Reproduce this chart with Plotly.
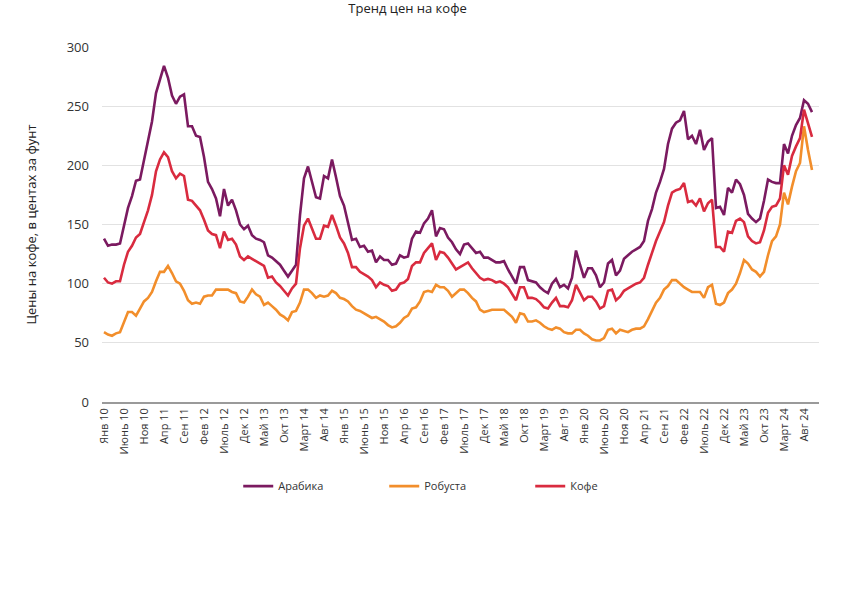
import plotly.graph_objects as go

month_abbr = ["Янв", "Фев", "Март", "Апр", "Май", "Июнь", "Июль", "Авг", "Сен", "Окт", "Ноя", "Дек"]
start_year = 10
n_months = 178  # Jan 2010 .. Oct 2024
months = [f"{month_abbr[i % 12]} {start_year + i // 12}" for i in range(n_months)]
tick_labels = months[::5]

arabica = [
    138, 132, 133, 133, 134, 150, 164, 174, 187, 188,
    205, 221, 237, 261, 272, 284, 274, 259, 252, 258,
    260, 233, 233, 225, 224, 207, 186, 180, 172, 157,
    180, 166, 171, 162, 150, 146, 149, 141, 138, 137,
    135, 124, 122, 119, 116, 111, 106, 111, 116, 158,
    189, 199, 187, 173, 172, 191, 189, 205, 190, 174,
    166, 152, 137, 138, 131, 132, 127, 128, 118, 123,
    120, 120, 116, 117, 124, 122, 123, 138, 144, 143,
    151, 155, 162, 140, 147, 146, 139, 135, 129, 125,
    133, 134, 130, 126, 127, 122, 122, 120, 118, 118,
    119, 112, 106, 100, 114, 114, 103, 102, 101, 97,
    94, 92, 100, 104, 97, 99, 96, 105, 128, 116,
    105, 113, 113, 107, 97, 101, 117, 120, 107, 111,
    121, 124, 127, 129, 131, 136, 153, 163, 177, 186,
    197, 218, 231, 236, 238, 246, 222, 225, 218, 230,
    213, 220, 223, 164, 165, 158, 181, 177, 188, 184,
    175, 159, 155, 152, 155, 170, 188, 186, 185, 185,
    218, 210, 225, 234, 240, 255, 252, 245,
]

robusta = [
    59, 57, 56, 58, 59, 67, 76, 76, 73, 79,
    85, 88, 93, 102, 110, 110, 115, 109, 102, 100,
    94, 86, 83, 84, 83, 89, 90, 90, 95, 95,
    95, 95, 93, 92, 85, 84, 89, 95, 91, 89,
    82, 84, 81, 78, 74, 72, 69, 76, 77, 84,
    95, 95, 92, 88, 90, 89, 90, 94, 92, 88,
    87, 85, 81, 78, 77, 75, 73, 71, 72, 70,
    68, 65, 63, 64, 67, 71, 73, 79, 80, 85,
    93, 94, 93, 99, 97, 97, 94, 89, 92, 95,
    95, 92, 88, 85, 78, 76, 77, 78, 78, 78,
    78, 75, 72, 67, 75, 74, 68, 68, 69, 67,
    64, 62, 61, 63, 62, 59, 58, 58, 61, 61,
    58, 56, 53, 52, 52, 54, 61, 62, 58, 61,
    60, 59, 61, 62, 62, 64, 70, 77, 84, 88,
    95, 98, 103, 103, 100, 97, 95, 93, 93, 93,
    88, 97, 99, 83, 82, 84, 92, 95, 100, 109,
    120, 117, 112, 110, 106, 110, 124, 136, 140, 150,
    177, 167, 182, 195, 202, 233, 213, 196,
]

coffee = [
    105, 101, 100, 102, 102, 116, 127, 132, 139, 142,
    152, 162, 175, 195, 205, 211, 207, 195, 189, 193,
    191, 171, 170, 166, 162, 154, 145, 142, 141, 130,
    144, 137, 138, 133, 123, 120, 123, 121, 119, 117,
    115, 105, 106, 101, 98, 94, 90, 96, 100, 130,
    149, 155, 146, 138, 138, 149, 148, 158, 149, 139,
    134, 126, 114, 114, 110, 108, 106, 103, 97, 101,
    99, 98, 94, 95, 100, 101, 104, 115, 118, 118,
    126, 130, 134, 120, 127, 126, 122, 117, 112, 114,
    116, 118, 113, 109, 105, 103, 104, 103, 101, 102,
    100, 97, 92, 86, 97, 97, 88, 88, 87, 84,
    80, 79, 84, 88, 81, 81, 80, 86, 99, 93,
    86, 89, 89, 85, 79, 81, 94, 95, 86, 89,
    94, 96, 98, 100, 101, 105, 116, 126, 136, 144,
    152, 166, 177, 179, 180, 185, 169, 170, 166, 172,
    161, 168, 171, 131, 131, 127, 144, 143, 153, 155,
    152, 140, 136, 134, 135, 145, 160, 165, 166, 172,
    200, 192, 208, 216, 223, 247, 236, 224,
]

series = [
    ("Арабика", arabica, "#7b1a60"),
    ("Робуста", robusta, "#f28e2b"),
    ("Кофе", coffee, "#d92b3f"),
]

font_family = "Open Sans, Noto Sans, sans-serif"

fig = go.Figure()
for name, values, color in series:
    fig.add_trace(go.Scatter(
        x=months, y=values, name=name, mode="lines",
        line=dict(color=color, width=2.6),
    ))

fig.update_layout(
    width=842, height=595,
    margin=dict(l=102, r=23, t=47, b=193),
    paper_bgcolor="white", plot_bgcolor="white",
    font=dict(family=font_family, size=11, color="#333333"),
    title=dict(
        text="Тренд цен на кофе", x=0.484, xref="container", xanchor="center",
        y=0.986, yref="container", yanchor="middle",
        font=dict(size=13, color="#222222"),
    ),
    showlegend=True,
    legend=dict(
        orientation="h", x=0.19, xanchor="left", y=-0.237, yanchor="middle",
        font=dict(size=11, color="#333333"),
        entrywidth=101, entrywidthmode="pixels",
        bgcolor="rgba(0,0,0,0)",
    ),
)

fig.update_xaxes(
    type="category",
    range=[-0.5, 178.75],
    tickmode="array", tickvals=tick_labels, ticktext=tick_labels,
    tickangle=-90, showgrid=False, zeroline=False,
    showline=True, linecolor="#9a9a9a", linewidth=1.5,
    ticks="", tickfont=dict(size=11, color="#333333"),
)
fig.update_yaxes(
    range=[0, 300], dtick=50, tick0=0,
    showgrid=True, gridcolor="#e2e2e2", gridwidth=1,
    zeroline=False, showline=False, ticks="",
    ticklabelstandoff=12,
    tickfont=dict(size=13, color="#333333"),
    title=dict(text="Цены на кофе, в центах за фунт", standoff=27,
               font=dict(size=13, color="#222222")),
)

fig.write_html(
    "out.html",
    config={"displayModeBar": False},
    post_script="document.body.style.margin='0';",
)
